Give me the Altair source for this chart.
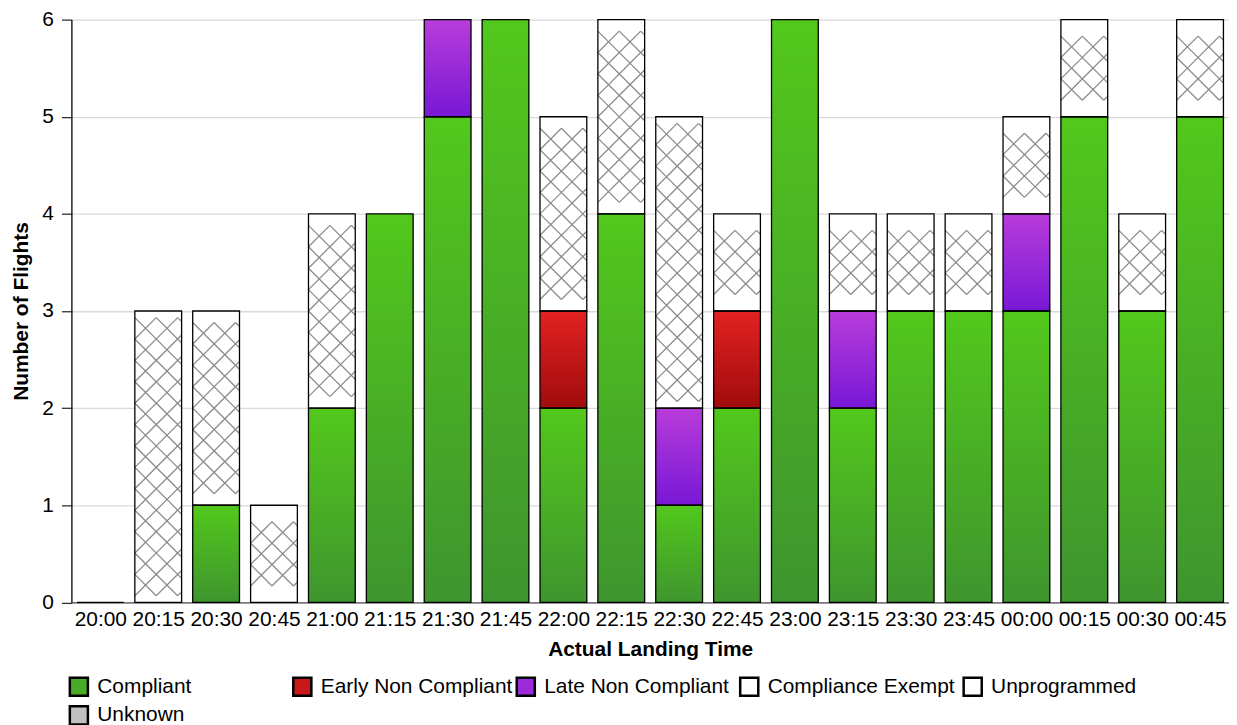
import altair as alt
import pandas as pd
import math

times = ["20:00", "20:15", "20:30", "20:45", "21:00", "21:15", "21:30", "21:45",
         "22:00", "22:15", "22:30", "22:45", "23:00", "23:15", "23:30", "23:45",
         "00:00", "00:15", "00:30", "00:45"]
compliant = [0, 0, 1, 0, 2, 4, 5, 6, 2, 4, 1, 2, 6, 2, 3, 3, 3, 5, 3, 5]
early_nc = [0, 0, 0, 0, 0, 0, 0, 0, 1, 0, 0, 1, 0, 0, 0, 0, 0, 0, 0, 0]
late_nc = [0, 0, 0, 0, 0, 0, 1, 0, 0, 0, 1, 0, 0, 1, 0, 0, 1, 0, 0, 0]
exempt = [0, 3, 2, 1, 2, 0, 0, 0, 2, 2, 3, 1, 0, 1, 1, 1, 1, 1, 1, 1]
unprogrammed = [0] * 20
unknown = [0] * 20

categories = ["Compliant", "Early Non Compliant", "Late Non Compliant",
              "Compliance Exempt", "Unprogrammed", "Unknown"]
legend_colors = ["#48ac26", "#c81818", "#9c2ad8", "#ffffff", "#ffffff", "#c0c0c0"]
series = [compliant, early_nc, late_nc, exempt, unprogrammed, unknown]

W = 1163
H = 585.5
YMAX = 6
HW = 0.404  # half bar width in band units

rows = []
for i, t in enumerate(times):
    cum = 0
    total = sum(s[i] for s in series)
    if total == 0:
        rows.append(dict(idx=i, time=t, cat="Compliant", x0=i - HW, x1=i + HW, y0=0, y1=0))
        continue
    for cat, s in zip(categories, series):
        v = s[i]
        if v > 0:
            rows.append(dict(idx=i, time=t, cat=cat, x0=i - HW, x1=i + HW, y0=cum, y1=cum + v))
            cum += v
df = pd.DataFrame(rows)

# cross-hatch lines for exempt segments, derived from segment bounds
sx = W / len(times)
sy = H / YMAX
d = 21.5
hatch = []
for r in rows:
    if r["cat"] != "Compliance Exempt":
        continue
    xl = (r["x0"] + 0.5) * sx
    xr = (r["x1"] + 0.5) * sx
    bw = xr - xl
    top = (YMAX - r["y1"]) * sy
    bot = (YMAX - r["y0"]) * sy
    hs = bot - top
    n = int((hs - 12) // d)
    hh = n * d
    t0 = top + (hs - hh) / 2
    def add(px1, py1, px2, py2):
        hatch.append(dict(x=px1 / sx - 0.5, x2=px2 / sx - 0.5,
                          y=YMAX - (t0 + py1) / sy, y2=YMAX - (t0 + py2) / sy))
    kmax = int(math.ceil((bw + hh) / d)) + 2
    for k in range(-n - 2, kmax):
        c = k * d
        lo = max(0.0, -c)
        hi = min(hh, bw - c)
        if hi - lo > 0.5:
            add(xl + c + lo, lo, xl + c + hi, hi)
        lo = max(0.0, c - bw)
        hi = min(hh, c)
        if hi - lo > 0.5:
            add(xl + c - lo, lo, xl + c - hi, hi)
hdf = pd.DataFrame(hatch)

label_expr = "[" + ",".join("'%s'" % t for t in times) + "][datum.value]"

xscale = alt.Scale(domain=[-0.5, len(times) - 0.5], nice=False, zero=False)
yscale = alt.Scale(domain=[0, YMAX], nice=False)

xaxis = alt.Axis(title="Actual Landing Time", values=list(range(len(times))),
                 labelExpr=label_expr, ticks=False, grid=False, labelPadding=6,
                 titlePadding=9, domainColor="#555555", labelFlush=False,
                 labelOverlap=False)
yaxis = alt.Axis(title="Number of Flights", values=list(range(YMAX + 1)), format="d",
                 tickSize=10, tickColor="#333333", domainColor="#000000",
                 gridColor="#d9d9d9", labelPadding=8, titlePadding=10)

base = alt.Chart(df)

bars = base.mark_bar(stroke=None).encode(
    x=alt.X("x0:Q", scale=xscale, axis=xaxis),
    x2="x1:Q",
    y=alt.Y("y0:Q", scale=yscale, axis=yaxis),
    y2="y1:Q",
    color=alt.Color("cat:N", scale=alt.Scale(domain=categories, range=legend_colors),
                    legend=alt.Legend(title=None, orient="none", legendX=-3, legendY=659.5,
                                      direction="horizontal", columns=5, gridAlign="all",
                                      symbolType="square", symbolSize=330,
                                      symbolStrokeColor="#000000", symbolStrokeWidth=2.5,
                                      labelFontSize=21, labelLimit=400, labelOffset=8,
                                      columnPadding=-1.5, rowPadding=0, padding=0)),
)

def grad(top, bottom):
    return {"gradient": "linear", "x1": 0, "y1": 0, "x2": 0, "y2": 1,
            "stops": [{"offset": 0, "color": top}, {"offset": 1, "color": bottom}]}

gradients = {
    "Compliant": grad("#52c81c", "#3f952e"),
    "Early Non Compliant": grad("#e22222", "#a00c0c"),
    "Late Non Compliant": grad("#b83cda", "#7818d6"),
}

layers = [bars]
for cat, g in gradients.items():
    layers.append(
        base.transform_filter(alt.datum.cat == cat).mark_bar(fill=g, stroke=None).encode(
            x="x0:Q", x2="x1:Q", y="y0:Q", y2="y1:Q")
    )

hatch_layer = alt.Chart(hdf).mark_rule(color="#8c8c8c", strokeWidth=1.3).encode(
    x="x:Q", x2="x2:Q", y="y:Q", y2="y2:Q")
layers.append(hatch_layer)

outline = base.mark_bar(fillOpacity=0, stroke="#000000", strokeWidth=1.3).encode(
    x="x0:Q", x2="x1:Q", y="y0:Q", y2="y1:Q")
layers.append(outline)

chart = alt.layer(*layers).properties(
    width=W, height=H,
    autosize=alt.AutoSizeParams(type="none"),
    padding={"left": 63.7, "top": 10, "right": 0, "bottom": 121},
).configure(
    font="Liberation Sans"
).configure_view(
    stroke=None
).configure_axis(
    labelFontSize=21, titleFontSize=21, titleFontWeight="bold",
    labelColor="#000000", titleColor="#000000", domainWidth=1.3, gridWidth=1.3,
    tickWidth=1.3
).configure_legend(
    labelColor="#000000", labelFont="Liberation Sans"
)

chart.save("out.html", embed_options={"renderer": "svg", "actions": False})
